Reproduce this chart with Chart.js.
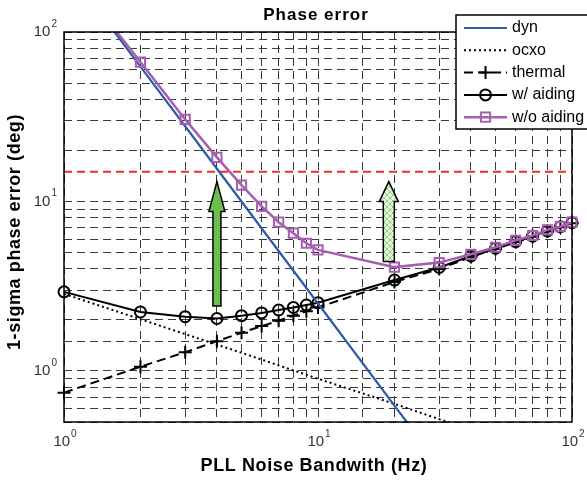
<!DOCTYPE html>
<html>
<head>
<meta charset="utf-8">
<script src="https://cdn.jsdelivr.net/npm/chart.js@4/dist/chart.umd.min.js"></script>
<style>
html,body{margin:0;padding:0;background:#fff;}
#wrap{width:587px;height:481px;}
</style>
</head>
<body>
<div id="wrap"><canvas id="chart" width="587" height="481"></canvas></div>
<script>
// bandwidths (Hz) and 1-sigma phase errors (deg)
const bwFull = [1,2,3,4,5,6,7,8,9,10,20,30,40,50,60,70,80,90,100];
const dynBw = [1,2,3,4,5,10,20,30];
const dynErr = [250,62.5,27.8,15.6,10,2.5,0.625,0.278];
const ocxoBw = [1,2,3,4,5,10,20,30,40];
const ocxoErr = [2.85,2.02,1.65,1.43,1.28,0.9,0.64,0.52,0.45];
const thermalErr = [0.745,1.06,1.29,1.5,1.68,1.84,1.98,2.12,2.25,2.37,3.35,4.0,4.7,5.25,5.75,6.2,6.65,7.05,7.45];
const aidedErr = [2.93,2.23,2.09,2.04,2.12,2.2,2.29,2.37,2.45,2.53,3.44,4.08,4.77,5.3,5.8,6.25,6.7,7.1,7.5];
const unaidedErr = [250,66.5,30.5,18.2,12.5,9.35,7.55,6.5,5.67,5.18,4.1,4.36,4.88,5.37,5.9,6.3,6.8,7.1,7.55];
const limitBw = [1,100];
const limitErr = [15,15];
// arrows: bandwidth, start and tip error
const arrowBw = [4,19];
const arrowFrom = [2.42,4.42];
const arrowTo = [13.1,13.1];
const xTickLabels = [1,10,100];
const yTickLabels = [1,10,100];

const pts=(xs,ys)=>xs.map((x,i)=>({x,y:ys[i]}));
const FONT='"Liberation Sans", Arial, sans-serif';
const clipLR={left:10,right:10,top:0,bottom:0};

const datasets=[
  {label:'dyn',order:2,data:pts(dynBw,dynErr),borderColor:'#2c5ca8',borderWidth:2.2,pointRadius:0},
  {label:'ocxo',order:5,data:pts(ocxoBw,ocxoErr),borderColor:'#000',borderWidth:2,borderDash:[2,3],pointRadius:0},
  {label:'thermal',order:4,data:pts(bwFull,thermalErr),borderColor:'#000',borderWidth:2,borderDash:[9,5],
    pointStyle:'cross',pointRadius:6.5,pointBorderWidth:2,pointBorderColor:'#000',clip:clipLR},
  {label:'w/ aiding',order:3,data:pts(bwFull,aidedErr),borderColor:'#000',borderWidth:2,
    pointStyle:'circle',pointRadius:5.5,pointBorderWidth:2,pointBorderColor:'#000',pointBackgroundColor:'rgba(0,0,0,0)',clip:clipLR},
  {label:'w/o aiding',order:1,data:pts(bwFull,unaidedErr),borderColor:'#a65fb0',borderWidth:2.5,
    pointStyle:'rect',pointRadius:6.5,pointBorderWidth:2,pointBorderColor:'#a65fb0',pointBackgroundColor:'rgba(0,0,0,0)',clip:clipLR},
  {label:'limit',order:6,data:pts(limitBw,limitErr),borderColor:'#e8302a',borderWidth:2,borderDash:[8,5],pointRadius:0}
];

function hatch(ctx){
  const c=document.createElement('canvas');c.width=6;c.height=6;
  const g=c.getContext('2d');
  g.fillStyle='#eef8e6';g.fillRect(0,0,6,6);
  g.strokeStyle='#8fcf72';g.lineWidth=1;
  g.beginPath();g.moveTo(0,0);g.lineTo(6,6);g.moveTo(6,0);g.lineTo(0,6);g.stroke();
  return ctx.createPattern(c,'repeat');
}

function arrow(ctx,x,y0,y1,shaftW,headW,headL,fill){
  ctx.beginPath();
  ctx.moveTo(x-shaftW/2,y0);
  ctx.lineTo(x-shaftW/2,y1+headL);
  ctx.lineTo(x-headW/2,y1+headL);
  ctx.lineTo(x,y1);
  ctx.lineTo(x+headW/2,y1+headL);
  ctx.lineTo(x+shaftW/2,y1+headL);
  ctx.lineTo(x+shaftW/2,y0);
  ctx.closePath();
  ctx.fillStyle=fill;ctx.fill();
  ctx.strokeStyle='#000';ctx.lineWidth=1.5;ctx.setLineDash([]);ctx.stroke();
}

function pow10(ctx,v,x,y,align){
  const exp=String(Math.round(Math.log10(v)));
  ctx.font='15px '+FONT;const wb=ctx.measureText('10').width;
  ctx.font='10px '+FONT;const ws=ctx.measureText(exp).width;
  const tot=wb+1+ws;
  const x0=align==='center'?x-tot/2:x-tot;
  ctx.fillStyle='#333';ctx.textBaseline='middle';ctx.textAlign='left';
  ctx.font='15px '+FONT;ctx.fillText('10',x0,y);
  ctx.font='10px '+FONT;ctx.fillText(exp,x0+wb+1,y-8);
}

function drawMarker(ctx,ds,x,y){
  const r=ds.pointRadius;if(!r)return;
  ctx.setLineDash([]);ctx.lineWidth=ds.pointBorderWidth;ctx.strokeStyle=ds.pointBorderColor;
  ctx.beginPath();
  if(ds.pointStyle==='circle'){ctx.arc(x,y,r,0,Math.PI*2);}
  else if(ds.pointStyle==='rect'){const s=r*Math.SQRT1_2;ctx.rect(x-s,y-s,2*s,2*s);}
  else if(ds.pointStyle==='cross'){ctx.moveTo(x-r,y);ctx.lineTo(x+r,y);ctx.moveTo(x,y-r);ctx.lineTo(x,y+r);}
  ctx.stroke();
}

const decor={
  id:'decor',
  afterDatasetsDraw(chart){
    const {ctx,chartArea:a,scales:{x,y}}=chart;
    ctx.save();
    arrowBw.forEach((b,i)=>{
      const px=x.getPixelForValue(b),p0=y.getPixelForValue(arrowFrom[i]),p1=y.getPixelForValue(arrowTo[i]);
      if(i===0) arrow(ctx,px,p0,p1,8,16,30,'#6cbf4a');
      else arrow(ctx,px,p0,p1,11,19,20,hatch(ctx));
    });
    ctx.setLineDash([]);ctx.strokeStyle='#000';ctx.lineWidth=1.5;
    ctx.strokeRect(a.left,a.top,a.right-a.left,a.bottom-a.top);
    xTickLabels.forEach(v=>pow10(ctx,v,x.getPixelForValue(v)+1,442,'center'));
    yTickLabels.forEach(v=>pow10(ctx,v,57,y.getPixelForValue(v),'right'));
    ctx.fillStyle='#000';ctx.textAlign='center';ctx.textBaseline='middle';
    ctx.font='bold 17px '+FONT;ctx.letterSpacing='1px';
    ctx.fillText('Phase error',316,15);
    ctx.font='bold 18px '+FONT;ctx.letterSpacing='0.6px';
    ctx.fillText('PLL Noise Bandwith (Hz)',314,466);
    ctx.translate(15,232);ctx.rotate(-Math.PI/2);
    ctx.fillText('1-sigma phase error (deg)',0,0);
    ctx.restore();
  },
  afterDraw(chart){
    const ctx=chart.ctx;
    ctx.save();
    ctx.fillStyle='#fff';ctx.fillRect(456,15,140,114);
    ctx.strokeStyle='#000';ctx.lineWidth=1.5;ctx.setLineDash([]);ctx.strokeRect(456,15,140,114);
    chart.data.datasets.slice(0,5).forEach((ds,i)=>{
      const yy=28+i*22.3;
      ctx.setLineDash(ds.borderDash||[]);ctx.strokeStyle=ds.borderColor;ctx.lineWidth=ds.borderWidth;
      ctx.beginPath();ctx.moveTo(464,yy);ctx.lineTo(507,yy);ctx.stroke();
      drawMarker(ctx,ds,485.5,yy);
      ctx.fillStyle='#000';ctx.font='16px '+FONT;ctx.textAlign='left';ctx.textBaseline='middle';
      ctx.fillText(ds.label,512,yy);
    });
    ctx.restore();
  }
};

const axisOpts=(min,max,extra)=>Object.assign({
  type:'logarithmic',min,max,
  ticks:{display:false},
  grid:{color:'#3a3a3a',lineWidth:1,drawTicks:false},
  border:{display:false,dash:[8,5]}
},extra);

new Chart(document.getElementById('chart'),{
  type:'line',
  data:{datasets},
  options:{
    responsive:false,animation:false,
    layout:{padding:{left:0,top:32,right:15,bottom:0}},
    plugins:{legend:{display:false},title:{display:false},tooltip:{enabled:false}},
    elements:{line:{tension:0}},
    scales:{
      x:axisOpts(1,100,{afterFit(s){s.height=59;}}),
      y:axisOpts(0.5,100,{afterFit(s){s.width=64;}})
    }
  },
  plugins:[decor]
});
</script>
</body>
</html>
